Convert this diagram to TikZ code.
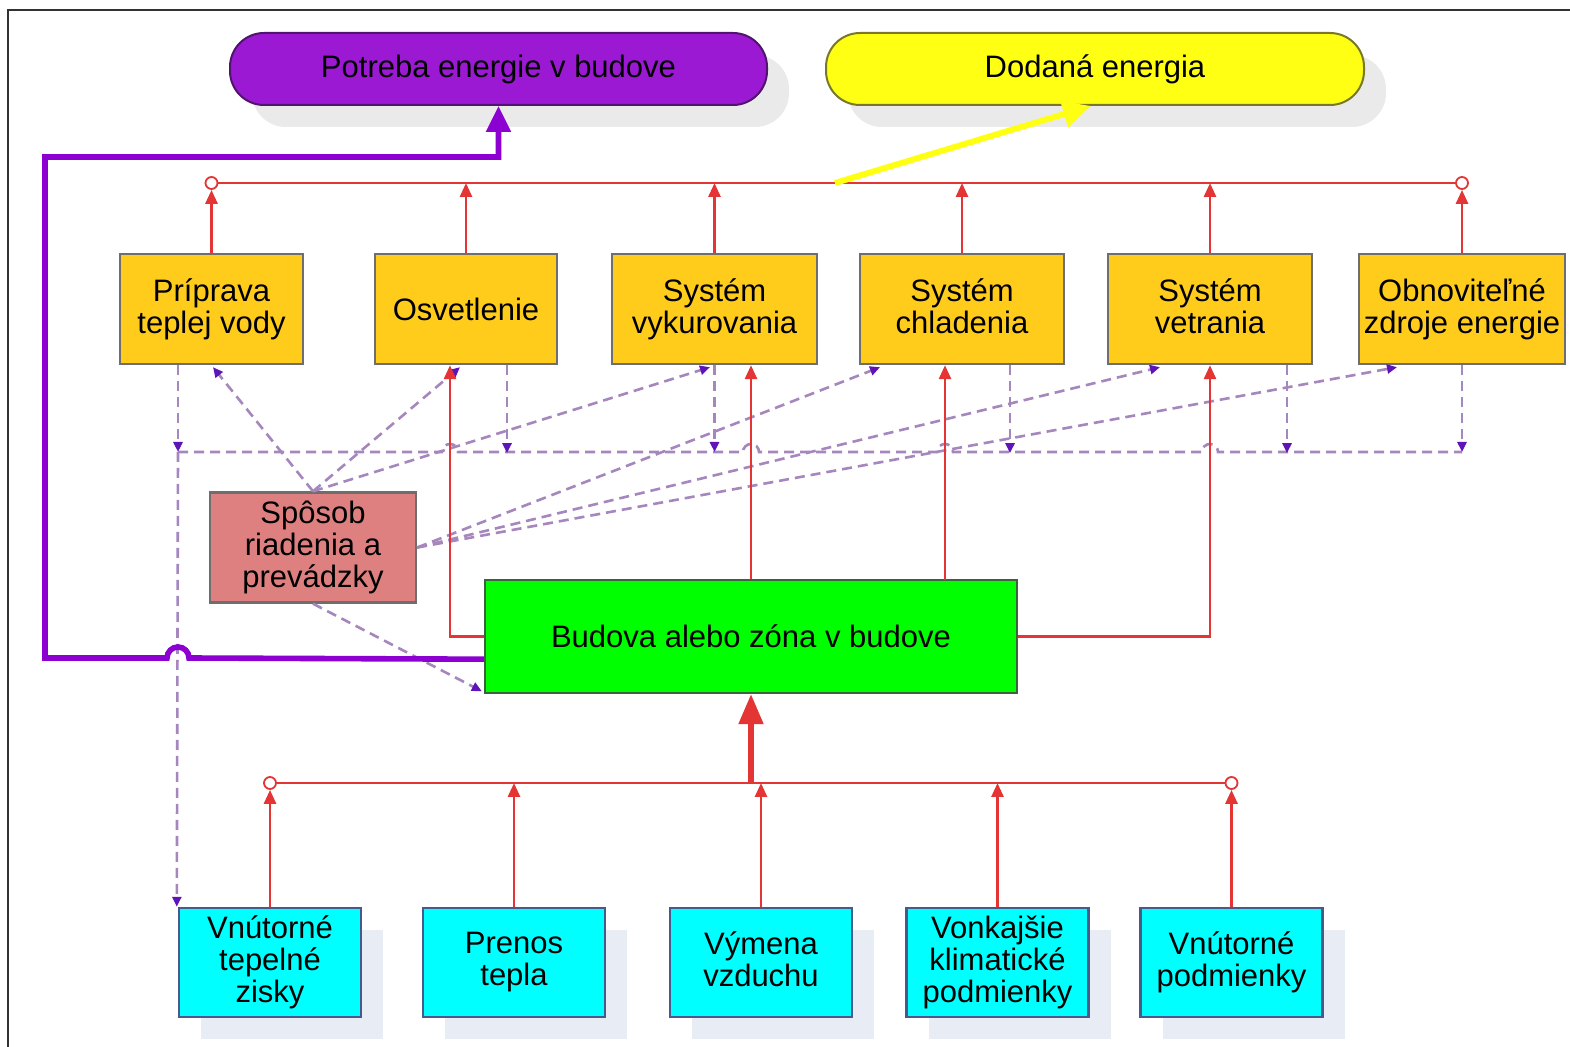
\documentclass[tikz,border=0pt]{standalone}
\usepackage{fontspec}
\setmainfont{Liberation Sans}
\usetikzlibrary{arrows.meta,calc,shadows}
\definecolor{purpleF}{RGB}{155,25,210}
\definecolor{purpleB}{RGB}{80,20,110}
\definecolor{yellowF}{RGB}{255,255,20}
\definecolor{yellowB}{RGB}{120,120,40}
\definecolor{goldF}{RGB}{255,204,28}
\definecolor{pinkF}{RGB}{222,128,128}
\definecolor{greenF}{RGB}{0,255,0}
\definecolor{greenB}{RGB}{60,100,60}
\definecolor{cyanF}{RGB}{0,255,255}
\definecolor{cyanB}{RGB}{70,90,140}
\definecolor{boxB}{RGB}{110,110,110}
\definecolor{redl}{RGB}{228,52,52}
\definecolor{dashc}{RGB}{165,135,190}
\definecolor{tipc}{RGB}{95,20,185}
\definecolor{purl}{RGB}{140,0,210}
\definecolor{shadowc}{RGB}{234,234,234}
\definecolor{shadowcy}{RGB}{232,236,245}
\definecolor{framec}{RGB}{50,50,50}
\begin{document}
\begin{tikzpicture}[x=0.5pt,y=-0.5pt]
\tikzset{
 lbl/.style={font=\fontsize{15.5}{16}\selectfont, align=center, inner sep=0pt},
 rbox/.style={lbl, rectangle, rounded corners=17pt, line width=1pt, minimum height=36pt,
   drop shadow={shadow xshift=11pt, shadow yshift=-11pt, fill=shadowc, opacity=1}},
 gbox/.style={lbl, rectangle, fill=goldF, draw=boxB, line width=1.2pt, minimum height=55pt},
 cbox/.style={lbl, rectangle, fill=cyanF, draw=cyanB, line width=1.2pt, minimum width=91pt, minimum height=54.5pt,
   drop shadow={shadow xshift=11pt, shadow yshift=-11pt, fill=shadowcy, opacity=1}},
 redline/.style={draw=redl, line width=1.4pt},
 redarr/.style={redline, -{Triangle[length=7pt,width=6pt]}},
 circ/.style={circle, draw=redl, fill=white, line width=0.9pt, minimum size=6pt, inner sep=0pt},
 dline/.style={draw=dashc, line width=1.3pt, dash pattern=on 5pt off 3pt},
 darr/.style={dline, -{Triangle[length=5pt,width=4.5pt,color=tipc]}},
}
\useasboundingbox (0,0) rectangle (1570,1047);
\fill[white] (0,0) rectangle (1570,1047);
\draw[framec, line width=1pt] (8,1047) -- (8,10) -- (1570,10);

% top rounded boxes
\node[rbox, fill=purpleF, draw=purpleB, minimum width=268.5pt] (pot) at (498.5,69) {Potreba energie v budove};
\node[rbox, fill=yellowF, draw=yellowB, minimum width=269pt] (dod) at (1095,69) {Dodaná energia};

% yellow system boxes
\node[gbox, minimum width=91.5pt] (prip) at (211.5,309) {Príprava\\teplej vody};
\node[gbox, minimum width=91pt] (osv) at (466,309) {Osvetlenie};
\node[gbox, minimum width=102.5pt] (vyk) at (714.5,309) {Systém\\vykurovania};
\node[gbox, minimum width=102pt] (chl) at (962,309) {Systém\\chladenia\vphantom{y}};
\node[gbox, minimum width=102pt] (vet) at (1210,309) {Systém\\vetrania\vphantom{y}};
\node[gbox, minimum width=103pt] (obn) at (1462,309) {Obnoviteľné\\zdroje energie};

% control box and building
\node[lbl, rectangle, fill=pinkF, draw=boxB, line width=1.2pt, minimum width=103pt, minimum height=55pt] (sp) at (313,547.5) {Spôsob\\riadenia a\\prevádzky};
\node[lbl, rectangle, fill=greenF, draw=greenB, line width=1.2pt, minimum width=266pt, minimum height=56.5pt] (bud) at (751,636.5) {Budova alebo zóna v budove};

% cyan boxes
\node[cbox] (vz) at (270,962.5) {Vnútorné\\tepelné\\zisky};
\node[cbox] (pt) at (514,962.5) {Prenos\\tepla};
\node[cbox] (vv) at (761,962.5) {Výmena\\vzduchu\vphantom{y}};
\node[cbox] (vk) at (997.5,962.5) {Vonkajšie\\klimatické\\podmienky};
\node[cbox] (vp) at (1231.5,962.5) {Vnútorné\\podmienky};

% ---- dashed control lines
\coordinate (dbL) at (178,452);
\coordinate (dbR) at (1462,452);
\draw[dline] (dbL) -- (442,452) arc[start angle=180,end angle=0,radius=4pt]
  -- (743,452) arc[start angle=180,end angle=0,radius=4pt]
  -- (937,452) arc[start angle=180,end angle=0,radius=4pt]
  -- (1202,452) arc[start angle=180,end angle=0,radius=4pt] -- (dbR);
\draw[darr] ($(prip.south)+(-33.5,0)$) -- (dbL);
\draw[darr] ($(osv.south)+(41,0)$) -- ($(osv.south)+(41,88)$);
\draw[darr] (vyk.south) -- (vyk.south |- dbL);
\draw[darr] ($(chl.south)+(48,0)$) -- ($(chl.south)+(48,88)$);
\draw[darr] ($(vet.south)+(77,0)$) -- ($(vet.south)+(77,88)$);
\draw[darr] (obn.south) -- (dbR);
\draw[darr] (dbL) -- ($(vz.north west)+(-1,0)$);

\draw[darr] (sp.north) -- ($(prip.south)+(1.5,2)$);
\draw[darr] (sp.north) -- ($(osv.south)+(-6,2)$);
\draw[darr] (sp.north) -- ($(vyk.south)+(-4.5,2)$);
\draw[darr] (sp.east) -- ($(chl.south)+(-82,2)$);
\draw[darr] (sp.east) -- ($(vet.south)+(-50,2)$);
\draw[darr] (sp.east) -- ($(obn.south)+(-65,2)$);
\draw[darr] (sp.south) -- ($(bud.south west)+(-2,-3)$);

% ---- top red bus
\coordinate (tbL) at (211.5,183);
\coordinate (tbR) at (1462,183);
\draw[redline] (tbL) -- (tbR);
\node[circ] (c1) at (tbL) {};
\node[circ] (c2) at (tbR) {};
\draw[redarr] (prip.north) -- (c1.south);
\draw[redarr] (osv.north) -- (osv.north |- tbL);
\draw[redarr] (vyk.north) -- (vyk.north |- tbL);
\draw[redarr] (chl.north) -- (chl.north |- tbL);
\draw[redarr] (vet.north) -- (vet.north |- tbL);
\draw[redarr] (obn.north) -- (c2.south);

% yellow arrow to delivered energy
\coordinate (ys) at (835,183);
\draw[draw=yellowF, line width=3pt, -{Triangle[length=14pt,width=13pt]}] (ys) -- ($(dod.south)+(-4,0)$);

% ---- red arrows from building
\draw[redarr] (bud.west) -| ($(osv.south)+(-16,0)$);
\draw[redarr] (bud.north) -- (bud.north |- vyk.south);
\coordinate (b2) at (945,580);
\draw[redarr] (b2) -- (b2 |- chl.south);
\draw[redarr] (bud.east) -| (vet.south);

% ---- purple energy need line
\draw[draw=purl, line width=2.8pt, line join=miter, -{Triangle[length=13pt,width=12pt]}]
  ($(bud.south west)+(0,-35)$) -- (189,658) arc[start angle=0,end angle=180,radius=5.5pt]
  -- (45,658) -- (45,157) -- (498.5,157) -- (pot.south);

% ---- bottom red bus
\coordinate (bbL) at (270,783);
\coordinate (bbR) at (1231.5,783);
\draw[redline] (bbL) -- (bbR);
\node[circ] (c3) at (bbL) {};
\node[circ] (c4) at (bbR) {};
\draw[redarr] (vz.north) -- (c3.south);
\draw[redarr] (pt.north) -- (pt.north |- bbL);
\draw[redarr] (vv.north) -- (vv.north |- bbL);
\draw[redarr] (vk.north) -- (vk.north |- bbL);
\draw[redarr] (vp.north) -- (c4.south);
\coordinate (bm) at (751,783);
\draw[draw=redl, line width=2.6pt, -{Triangle[length=15pt,width=12pt]}] (bm) -- (bud.south);
\end{tikzpicture}
\end{document}
